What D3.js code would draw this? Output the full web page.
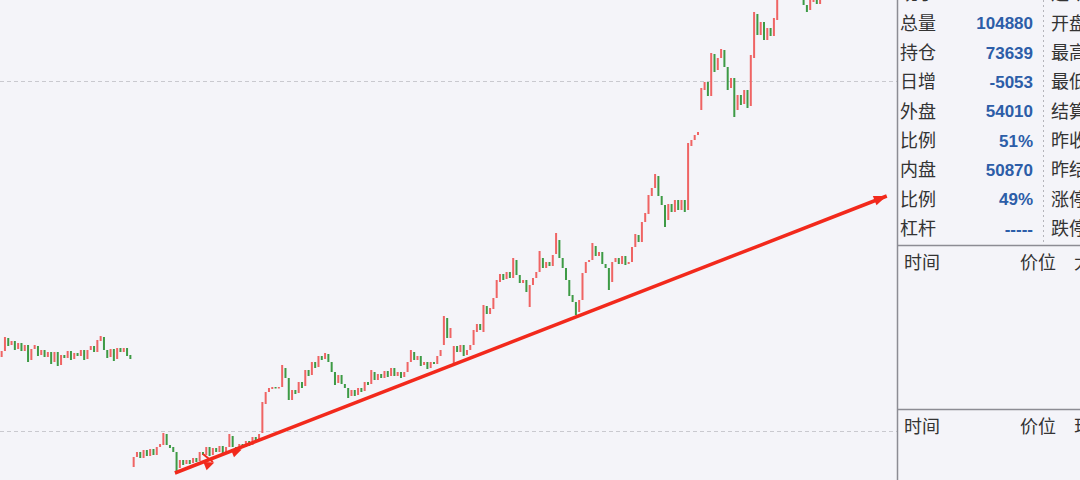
<!DOCTYPE html>
<html><head><meta charset="utf-8">
<script src="https://cdn.jsdelivr.net/npm/d3@7/dist/d3.min.js"></script>
<style>
html,body{margin:0;padding:0;background:#f4f4f9;overflow:hidden}
svg{display:block}
</style></head>
<body>
<svg id="c" width="1080" height="480"></svg>
<script>
// ---- data ----
// session 1 (previous), index 0..39
const open1 = [4643,4649,4662,4655,4659,4651,4657,4649,4655,4640,4651,4654,4645,4650,4643,4648,4638,4648,4635,4645,4642,4649,4641,4647,4644,4650,4641,4650,4654,4648,4659,4663,4650,4643,4651,4641,4652,4648,4652,4645];
const close1 = [4649,4663,4654,4659,4650,4657,4649,4655,4638,4651,4655,4644,4650,4643,4648,4636,4648,4634,4645,4642,4649,4640,4647,4644,4650,4640,4650,4654,4648,4660,4664,4650,4642,4651,4639,4652,4648,4652,4644,4641];
// session 2, index 40..250
const open2 = [4533,4543,4548,4542,4550,4544,4551,4545,4553,4555,4566,4555,4553,4548,4532,4540,4536,4540,4537,4542,
4539,4548,4545,4553,4545,4552,4548,4554,4546,4553,4564,4553,4549,4556,4553,4559,4555,4563,4561,4567,
4596,4608,4611,4613,4612,4613,4632,4622,4600,4610,4607,4618,4614,4630,4625,4638,4633,4644,4641,4646,
4638,4628,4617,4625,4616,4612,4604,4610,4605,4612,4609,4618,4616,4628,4620,4626,4622,4629,4624,4632,
4624,4628,4623,4628,4638,4648,4640,4644,4635,4638,4632,4638,4636,4644,4655,4682,4662,4637,4654,4648,
4655,4645,4650,4655,4668,4676,4668,4694,4686,4691,4702,4718,4726,4721,4728,4722,4740,4725,4717,4720,
4693,4715,4722,4728,4742,4732,4738,4734,4746,4760,4742,4732,4720,4705,4698,4688,4700,4727,4738,4740,
4754,4744,4748,4736,4732,4718,4738,4742,4736,4744,4736,4738,4753,4765,4758,4778,4786,4804,4812,4824,
4804,4795,4780,4796,4788,4800,4790,4800,4790,4854,4860,4865,4890,4910,4918,4904,4946,4930,4942,4950,
4933,4912,4922,4890,4905,4896,4910,4894,4942,4986,4965,4978,4960,4972,4964,4980,5005,5020,5030,5022,
5035,5025,5015,5008,4995,4990,4998,5002,4996,5002,5010];
const close2 = [4543,4548,4542,4550,4544,4551,4545,4553,4556,4567,4555,4552,4548,4528,4540,4535,4540,4536,4542,4538,
4548,4545,4553,4544,4552,4548,4554,4545,4553,4566,4553,4548,4556,4552,4559,4554,4563,4560,4566,4598,
4608,4612,4613,4612,4613,4635,4622,4600,4610,4606,4618,4612,4630,4624,4638,4632,4644,4640,4647,4638,
4628,4615,4625,4616,4612,4602,4610,4604,4612,4608,4618,4615,4630,4620,4626,4622,4629,4623,4632,4624,
4628,4622,4628,4638,4650,4640,4644,4634,4638,4631,4638,4636,4644,4650,4684,4662,4672,4654,4648,4655,
4644,4650,4655,4670,4676,4670,4695,4686,4692,4702,4720,4726,4720,4728,4722,4742,4725,4717,4720,4708,
4715,4722,4728,4749,4732,4738,4734,4745,4767,4742,4732,4720,4704,4698,4685,4700,4727,4738,4740,4757,
4744,4748,4736,4732,4710,4738,4742,4736,4744,4735,4738,4753,4766,4758,4778,4787,4805,4812,4826,4804,
4795,4773,4796,4788,4800,4790,4800,4788,4857,4860,4865,4868,4912,4918,4904,4947,4928,4942,4951,4933,
4910,4922,4883,4905,4895,4910,4892,4945,4988,4965,4978,4960,4972,4964,4982,5005,5020,5030,5022,5035,
5025,5015,5008,4995,4988,5000,5004,4996,5002,5010,5020];
const gridPrices = [4919, 4569];
const trendLine = [{i:52.5, p:4527}, {i:268.2, p:4804}];
const trendMarks = [{i:63.3, p:4536}, {i:71.6, p:4549}];
const trendTick = [{i:61.0, p:4546}, {i:64.0, p:4538}];

const leftLabels = ["现手","总量","持仓","日增","外盘","比例","内盘","比例","杠杆"];
const leftValues = ["","104880","73639","-5053","54010","51%","50870","49%","-----"];
const rightLabels = ["运动","开盘","最高","最低","结算","昨收","昨结","涨停","跌停"];
const tradeHeaders = [["时间","价位","大单"],["时间","价位","现手"]];

// ---- build ----
const candles = [];
open1.forEach((o,k)=>candles.push({i:k, o, c:close1[k]}));
open2.forEach((o,k)=>candles.push({i:40+k, o, c:close2[k]}));

const W = 1080, H = 480, chartW = 897;
const svg = d3.select("#c");
svg.append("rect").attr("width",W).attr("height",H).attr("fill","#f4f4f9");

const x = d3.scaleLinear().domain([-0.5, 271.3]).range([0, chartW]);
const y = d3.scaleLinear().domain([4520, 5000]).range([H, 0]);

svg.append("clipPath").attr("id","clip").append("rect").attr("width",chartW).attr("height",H);
const g = svg.append("g").attr("clip-path","url(#clip)");

g.selectAll("line.grid").data(gridPrices).join("line").attr("class","grid")
  .attr("x1",0).attr("x2",chartW).attr("y1",d=>Math.round(y(d))+0.5).attr("y2",d=>Math.round(y(d))+0.5)
  .attr("stroke","#c9c9cf").attr("stroke-width",1).attr("stroke-dasharray","4,3");

const upC = "#ef6464", dnC = "#3d9a45";
g.selectAll("rect.k").data(candles).join("rect").attr("class","k")
  .attr("x",d=>x(d.i)-1).attr("width",2)
  .attr("y",d=>y(Math.max(d.o,d.c)))
  .attr("height",d=>Math.max(1.5, Math.abs(y(d.o)-y(d.c))))
  .attr("fill",d=>d.c>=d.o?upC:dnC);

// trend annotation
const red = "#f2291c";
const line = d3.line().x(d=>x(d.i)).y(d=>y(d.p));
g.append("path").attr("d",line(trendLine)).attr("stroke",red).attr("stroke-width",3.5).attr("fill","none");
g.append("path").attr("d",line(trendTick)).attr("stroke",red).attr("stroke-width",2).attr("fill","none");
const ang = Math.atan2(y(trendLine[1].p)-y(trendLine[0].p), x(trendLine[1].i)-x(trendLine[0].i))*180/Math.PI;
// end arrowhead
g.append("path").attr("d","M0,0 L-13,-5 L-13,5 Z").attr("fill",red)
  .attr("transform",`translate(${x(trendLine[1].i)},${y(trendLine[1].p)}) rotate(${ang})`);
g.selectAll("path.mk").data(trendMarks).join("path").attr("class","mk")
  .attr("d","M4,0 L-6,-4.5 L-6,4.5 Z").attr("fill",red)
  .attr("transform",d=>`translate(${x(d.i)},${y(d.p)}) rotate(${ang})`);

// ---- side panel ----
const p = svg.append("g");
const lineC = "#8c8c94";
p.append("line").attr("x1",897.5).attr("x2",897.5).attr("y1",0).attr("y2",H).attr("stroke",lineC).attr("stroke-width",1.5);
[245.5, 409.5].forEach(v=>p.append("line").attr("x1",897).attr("x2",W).attr("y1",v).attr("y2",v).attr("stroke",lineC).attr("stroke-width",1.5));
p.append("line").attr("x1",1043.5).attr("x2",1043.5).attr("y1",0).attr("y2",245).attr("stroke","#b5b5bb").attr("stroke-dasharray","2,3");

const rowY = k => -6 + k*29.3;
const cjk = "'Noto Sans CJK SC','Noto Sans',sans-serif";
p.selectAll("text.ll").data(leftLabels).join("text").attr("class","ll")
  .attr("x",900).attr("y",(d,k)=>rowY(k)).attr("dy","0.36em")
  .attr("font-family",cjk).attr("font-size",18).attr("fill","#333").text(d=>d);
p.selectAll("text.lv").data(leftValues).join("text").attr("class","lv")
  .attr("x",1033).attr("y",(d,k)=>rowY(k)).attr("dy","0.36em").attr("text-anchor","end")
  .attr("font-family","'Liberation Sans',Arial,sans-serif").attr("font-weight","bold").attr("font-size",17)
  .attr("fill","#2c5da8").text(d=>d);
p.selectAll("text.rl").data(rightLabels).join("text").attr("class","rl")
  .attr("x",1051).attr("y",(d,k)=>rowY(k)).attr("dy","0.36em")
  .attr("font-family",cjk).attr("font-size",18).attr("fill","#333").text(d=>d);

const hdrY = [263, 427], hdrX = [904, 1020, 1074];
tradeHeaders.forEach((row,r)=>{
  p.selectAll(null).data(row).join("text")
   .attr("x",(d,k)=>hdrX[k]).attr("y",hdrY[r]).attr("dy","0.36em")
   .attr("font-family",cjk).attr("font-size",18).attr("fill","#333").text(d=>d);
});
</script>
</body></html>
